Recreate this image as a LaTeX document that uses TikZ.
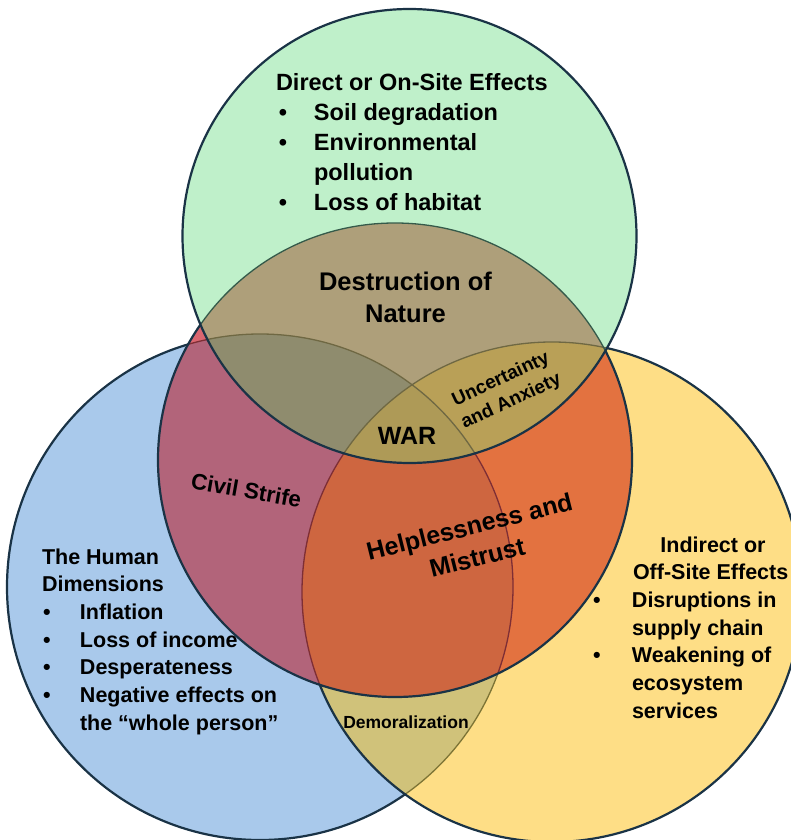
\documentclass[tikz,border=0pt]{standalone}
\usepackage{fontspec}
\setmainfont{Liberation Sans}
\definecolor{navy}{HTML}{1A3346}
\definecolor{colG}{HTML}{BFF0CA}
\definecolor{colB}{HTML}{A9C9EB}
\definecolor{colY}{HTML}{FEDE86}
\definecolor{colR}{HTML}{DA6670}
\definecolor{colBY}{HTML}{D0C27A}
\definecolor{colRB}{HTML}{B2647A}
\definecolor{colRY}{HTML}{E37240}
\definecolor{colRBY}{HTML}{CE6640}
\definecolor{colGR}{HTML}{AE9F7A}
\definecolor{colGRB}{HTML}{8F8C6E}
\definecolor{colGRY}{HTML}{B9A057}
\definecolor{colW}{HTML}{AE9A57}
\definecolor{lnBY}{HTML}{7D7435}
\definecolor{lnR}{HTML}{7E2E35}
\definecolor{lnG}{HTML}{6F6843}
\definecolor{lnGR}{HTML}{355A4A}
\begin{document}
\begin{tikzpicture}[x=1pt,y=-1pt,
  lab/.style={inner sep=0pt, outer sep=0pt, text=black},
  lw/.style={anchor=base west},
  lc/.style={anchor=base},
  outline/.style={draw=navy, line width=2.2pt},
  thin/.style={line width=1.3pt}
]
\def\pG{(409.5,236) circle[radius=227pt]}
\def\pR{(395,460) circle[radius=237pt]}
\def\pB{(260,587) circle[radius=253pt]}
\def\pY{(552,592) circle[radius=250pt]}
\useasboundingbox (0,0) rectangle (791,840);
\begin{scope}
\clip (0,0) rectangle (791,840);
% blue
\fill[colB] \pB;
\draw[outline] \pB;
% yellow
\fill[colY] \pY;
\begin{scope}\clip \pB; \fill[colBY] \pY; \end{scope}
\begin{scope}\clip \pY; \draw[thin, draw=lnBY] \pB; \end{scope}
\draw[outline] \pY;
% red
\fill[colR] \pR;
\begin{scope}\clip \pR; \fill[colRB] \pB; \end{scope}
\begin{scope}\clip \pR; \fill[colRY] \pY; \end{scope}
\begin{scope}\clip \pR; \clip \pB; \fill[colRBY] \pY; \end{scope}
\begin{scope}\clip \pR; \draw[thin, draw=lnR] \pB; \draw[thin, draw=lnR] \pY; \end{scope}
\draw[outline] \pR;
% green
\fill[colG] \pG;
\begin{scope}\clip \pG; \fill[colGR] \pR; \end{scope}
\begin{scope}\clip \pG; \clip \pR; \fill[colGRB] \pB; \end{scope}
\begin{scope}\clip \pG; \clip \pR; \fill[colGRY] \pY; \end{scope}
\begin{scope}\clip \pG; \clip \pR; \clip \pB; \fill[colW] \pY; \end{scope}
\begin{scope}\clip \pG; \draw[thin, draw=lnG] \pB; \draw[thin, draw=lnG] \pY; \draw[thin, draw=lnGR] \pR; \end{scope}
\draw[outline] \pG;
\end{scope}
% top block
\node[lab, lw, font=\bfseries\fontsize{23.5}{30}\selectfont] (direct) at (276,91)
  {\begin{tabular}[t]{@{}l@{}}
   Direct or On-Site Effects\\
   \makebox[14pt]{•}\hspace{24pt}Soil degradation\\
   \makebox[14pt]{•}\hspace{24pt}Environmental\\
   \hspace{38pt}pollution\\
   \makebox[14pt]{•}\hspace{24pt}Loss of habitat
   \end{tabular}};
% centre labels
\node[lab, lc, font=\bfseries\fontsize{25.5}{32}\selectfont] (nature) at (405.5,290)
  {\begin{tabular}[t]{@{}c@{}}Destruction of\\Nature\end{tabular}};
\node[lab, lc, font=\bfseries\fontsize{25}{30}\selectfont] (war) at (407,444) {WAR};
\node[lab, lc, rotate=25, font=\bfseries\fontsize{19}{24.5}\selectfont] (uncert) at (503,384)
  {\begin{tabular}[t]{@{}c@{}}Uncertainty\\and Anxiety\end{tabular}};
\node[lab, lc, rotate=-10, font=\bfseries\fontsize{22.5}{26}\selectfont] (civil) at (245,498) {Civil Strife};
\node[lab, lc, rotate=14, font=\bfseries\fontsize{25}{32}\selectfont] (help) at (471.5,535)
  {\begin{tabular}[t]{@{}c@{}}Helplessness and\\Mistrust\end{tabular}};
\node[lab, lc, font=\bfseries\fontsize{17.5}{20}\selectfont] (demor) at (406,728) {Demoralization};
% left block
\node[lab, lw, font=\bfseries\fontsize{21.5}{27.7}\selectfont] (human) at (42,564)
  {\begin{tabular}[t]{@{}l@{}}
   The Human\\
   Dimensions\\
   \makebox[10pt]{•}\hspace{28pt}Inflation\\
   \makebox[10pt]{•}\hspace{28pt}Loss of income\\
   \makebox[10pt]{•}\hspace{28pt}Desperateness\\
   \makebox[10pt]{•}\hspace{28pt}Negative effects on\\
   \hspace{38pt}the “whole person”
   \end{tabular}};
% right block
\node[lab, lw, font=\bfseries\fontsize{21.5}{27.7}\selectfont] (indirect) at (592,552)
  {\begin{tabular}[t]{@{}l@{}}
   \hspace{121pt}\makebox[0pt][c]{Indirect or}\\
   \hspace{41pt}Off-Site Effects\\
   \makebox[10pt]{•}\hspace{30pt}Disruptions in\\
   \hspace{40pt}supply chain\\
   \makebox[10pt]{•}\hspace{30pt}Weakening of\\
   \hspace{40pt}ecosystem\\
   \hspace{40pt}services
   \end{tabular}};
\end{tikzpicture}
\end{document}
